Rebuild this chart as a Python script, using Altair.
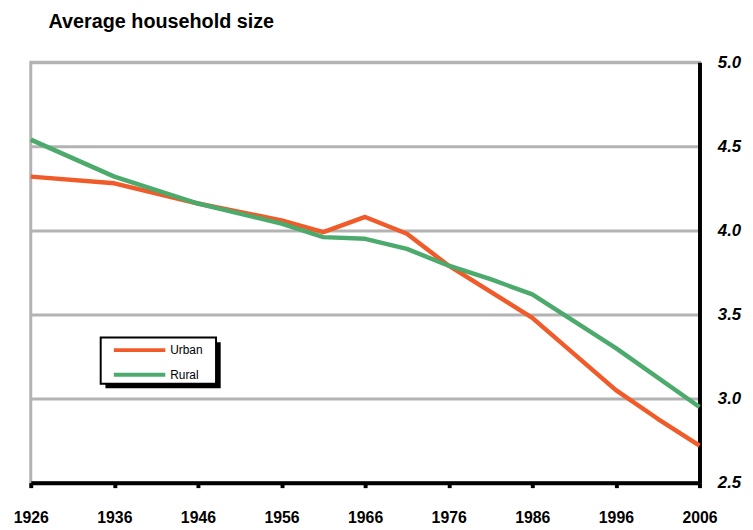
import altair as alt
import pandas as pd

# ---- data ----
urban_years = [1926, 1936, 1946, 1956, 1961, 1966, 1971, 1976, 1986, 1996, 2001, 2006]
urban_vals = [4.32, 4.28, 4.16, 4.06, 3.99, 4.08, 3.98, 3.79, 3.48, 3.05, 2.88, 2.72]
rural_years = [1926, 1936, 1946, 1956, 1961, 1966, 1971, 1976, 1981, 1986, 1996, 2006]
rural_vals = [4.54, 4.32, 4.16, 4.04, 3.96, 3.95, 3.89, 3.79, 3.71, 3.62, 3.30, 2.95]
series = ["Urban", "Rural"]
colors = ["#F15A29", "#4CAA6C"]
x_ticks = [1926, 1936, 1946, 1956, 1966, 1976, 1986, 1996, 2006]
y_ticks = [2.5, 3.0, 3.5, 4.0, 4.5, 5.0]

rows = []
for i, (y, v) in enumerate(zip(urban_years, urban_vals)):
    rows.append({"year": y, "size": v, "area": "Urban", "ord": i})
for i, (y, v) in enumerate(zip(rural_years, rural_vals)):
    rows.append({"year": y, "size": v, "area": "Rural", "ord": i})
df = pd.DataFrame(rows)

W, H = 676, 425
FONT = "Liberation Sans"

lines = alt.Chart(df).mark_line(strokeWidth=4.5, strokeJoin="round").encode(
    x=alt.X("year:Q",
            scale=alt.Scale(domain=[1926, 2006], nice=False, zero=False),
            axis=alt.Axis(values=x_ticks, format="d", title=None, grid=False,
                          domainColor="black", domainWidth=4, labelFlush=False,
                          tickColor="black", tickWidth=4, tickSize=5,
                          labelFont=FONT, labelFontWeight="bold", labelFontSize=16,
                          labelColor="black", labelPadding=22)),
    y=alt.Y("size:Q",
            scale=alt.Scale(domain=[2.5, 5.0], nice=False, zero=False),
            axis=alt.Axis(orient="right", values=y_ticks, format=".1f", title=None,
                          grid=True, gridColor="#B3B3B3", gridWidth=3, labelFlush=False,
                          domainColor="black", domainWidth=4, ticks=False,
                          labelFont=FONT, labelFontWeight="bold", labelFontStyle="italic",
                          labelFontSize=17, labelColor="black", labelPadding=18)),
    color=alt.Color("area:N",
                    scale=alt.Scale(domain=series, range=colors),
                    sort=series,
                    legend=alt.Legend(title=None, orient="none", legendX=82, legendY=284,
                                      symbolType="M-1,0H9.4", symbolSize=100,
                                      symbolStrokeWidth=4, labelFont=FONT,
                                      labelFontSize=12, labelColor="black",
                                      labelOffset=45, rowPadding=9, padding=0)),
    order="ord:Q",
)

box_df = pd.DataFrame({"k": [0]})
shadow = alt.Chart(box_df).mark_rect(color="black").encode(
    x=alt.value(75.5), x2=alt.value(192), y=alt.value(283), y2=alt.value(329.5))
box = alt.Chart(box_df).mark_rect(fill="white", stroke="black", strokeWidth=2).encode(
    x=alt.value(70.7), x2=alt.value(187.3), y=alt.value(278.3), y2=alt.value(325))

chart = alt.layer(lines, shadow, box).properties(
    width=W, height=H,
    title=alt.TitleParams("Average household size", anchor="start", font=FONT,
                          fontSize=20, fontWeight="bold", color="black", frame="group",
                          dx=18, offset=6, baseline="alphabetic"),
    autosize=alt.AutoSizeParams(type="none"),
    padding={"left": 23, "top": 52, "right": 46, "bottom": 45},
).configure_view(stroke="#B3B3B3", strokeWidth=3)

chart.save("out.html", embed_options={"renderer": "svg", "actions": False})
